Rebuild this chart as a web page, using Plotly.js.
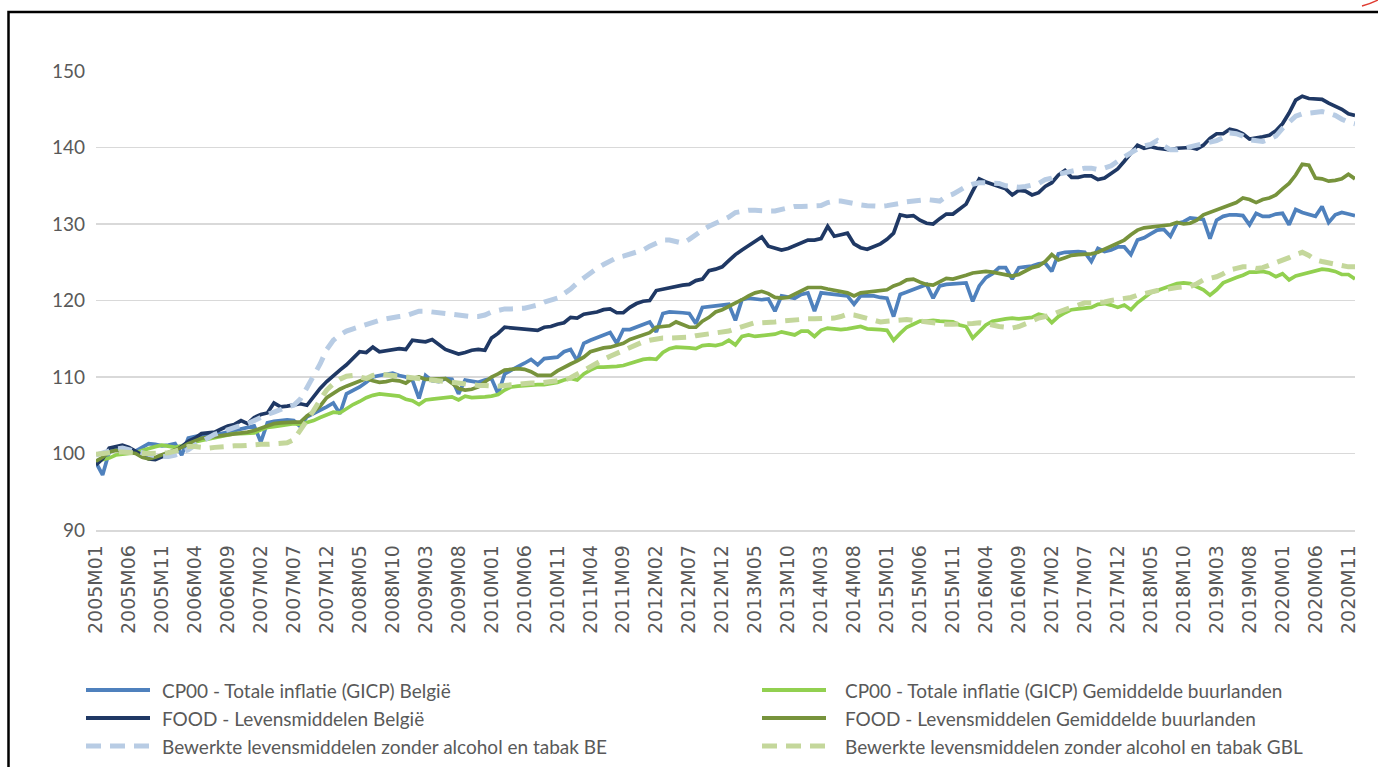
<!DOCTYPE html>
<html>
<head>
<meta charset="utf-8">
<script src="https://cdn.plot.ly/plotly-3.0.1.min.js"></script>
<style>
html,body{margin:0;padding:0;background:#fff;}
#chart{width:1378px;height:767px;}
</style>
</head>
<body>
<div id="chart"></div>
<script>
// Category labels 2005M01 .. 2020M12
const years = [2005,2006,2007,2008,2009,2010,2011,2012,2013,2014,2015,2016,2017,2018,2019,2020];
const monthCodes = ["M01","M02","M03","M04","M05","M06","M07","M08","M09","M10","M11","M12"];
const categories = [];
years.forEach(y => monthCodes.forEach(m => categories.push(y + m)));
const tickLabels = categories.filter((c, k) => k % 5 === 0);

const seriesNames = [
  "CP00 - Totale inflatie (GICP) België",
  "CP00 - Totale inflatie (GICP) Gemiddelde buurlanden",
  "FOOD - Levensmiddelen België",
  "FOOD - Levensmiddelen Gemiddelde buurlanden",
  "Bewerkte levensmiddelen zonder alcohol en tabak BE",
  "Bewerkte levensmiddelen zonder alcohol en tabak GBL"
];

const cp00BE = [
  98.8, 97.2,100.2,100.5,100.8,100.6,100.3,100.8,101.3,101.2,101.0,101.1,
 101.3, 99.8,102.0,102.2,102.4,102.5,102.7,102.6,102.8,103.0,103.1,103.3,
 103.6,101.5,104.0,104.2,104.3,104.4,104.3,103.5,104.8,105.2,105.7,106.1,
 106.6,105.2,107.8,108.2,108.7,109.3,110.0,110.2,110.3,110.5,110.2,110.0,
 109.6,107.2,110.2,109.5,109.4,109.8,109.7,107.8,109.6,109.5,109.3,109.6,
 109.8,107.8,110.4,110.9,111.3,111.8,112.3,111.6,112.4,112.5,112.6,113.3,
 113.6,112.1,114.4,114.8,115.1,115.4,115.8,114.4,116.2,116.2,116.5,116.9,
 117.2,115.9,118.3,118.5,118.5,118.4,118.3,117.0,119.1,119.2,119.2,119.3,
 119.5,117.4,120.1,120.3,120.2,120.1,120.2,118.6,120.6,120.4,120.3,120.8,
 121.0,118.6,121.0,120.9,120.8,120.7,120.6,119.5,120.6,120.6,120.6,120.4,
 120.3,117.9,120.8,121.1,121.4,121.8,122.1,120.3,121.9,122.1,122.2,122.3,
 122.3,119.9,121.9,123.0,123.5,124.3,124.3,122.8,124.3,124.4,124.5,124.8,
 124.9,123.8,126.1,126.3,126.4,126.4,126.3,125.1,126.8,126.4,126.6,127.0,
 127.0,126.0,127.9,128.2,128.7,129.2,129.3,128.4,130.1,130.3,130.8,130.7,
 130.6,128.1,130.5,131.0,131.2,131.2,131.1,129.9,131.4,131.0,131.0,131.3,
 131.4,129.9,131.9,131.5,131.2,131.0,132.3,130.2,131.2,131.5,131.3,131.1
];

const cp00GBL = [
  99.0, 99.2, 99.4, 99.8, 99.9,100.0,100.1,100.4,100.7,100.9,101.1,100.9,
 100.8,101.0,101.3,101.5,101.7,101.9,102.1,102.3,102.5,102.6,102.6,102.6,
 102.7,103.1,103.4,103.5,103.6,103.8,103.9,103.8,104.0,104.3,104.7,105.1,
 105.4,105.3,105.9,106.4,106.8,107.3,107.6,107.8,107.7,107.6,107.5,107.1,
 106.9,106.4,107.0,107.1,107.2,107.3,107.4,107.0,107.5,107.3,107.3,107.4,
 107.5,107.7,108.3,108.7,108.8,108.9,109.0,109.0,109.0,109.1,109.3,109.6,
 109.8,109.6,110.4,110.9,111.3,111.3,111.3,111.4,111.5,111.8,112.0,112.3,
 112.4,112.3,113.2,113.7,113.9,113.9,113.8,113.7,114.1,114.2,114.1,114.3,
 114.8,114.2,115.3,115.5,115.3,115.4,115.5,115.6,115.9,115.7,115.5,116.0,
 116.0,115.3,116.1,116.4,116.3,116.2,116.3,116.4,116.6,116.3,116.3,116.2,
 116.1,114.8,115.7,116.5,116.9,117.3,117.3,117.4,117.3,117.3,117.2,116.8,
 116.6,115.1,116.0,116.8,117.3,117.5,117.6,117.7,117.6,117.7,117.8,118.2,
 118.0,117.1,117.9,118.4,118.8,118.9,119.0,119.1,119.5,119.6,119.4,119.1,
 119.4,118.8,119.7,120.3,121.0,121.3,121.6,122.0,122.2,122.3,122.2,121.8,
 121.4,120.7,121.4,122.3,122.7,123.0,123.3,123.7,123.7,123.8,123.6,123.1,
 123.5,122.7,123.2,123.4,123.6,123.8,124.1,124.0,123.8,123.4,123.4,122.8
];

const foodBE = [
  98.5, 99.3,100.7,100.9,101.1,100.8,100.3, 99.7, 99.3, 99.2, 99.6,100.0,
 100.3,100.9,101.6,102.0,102.6,102.7,102.8,103.2,103.6,103.8,104.3,103.9,
 104.7,105.1,105.3,106.6,106.1,106.2,106.4,106.5,106.3,107.4,108.5,109.4,
 110.2,110.9,111.6,112.5,113.3,113.2,113.9,113.3,113.4,113.6,113.7,113.6,
 114.8,114.7,114.6,114.9,114.2,113.6,113.3,113.0,113.2,113.5,113.6,113.5,
 115.1,115.7,116.5,116.4,116.3,116.3,116.2,116.1,116.5,116.6,116.9,117.1,
 117.8,117.7,118.2,118.3,118.5,118.8,118.9,118.4,118.4,119.1,119.6,119.9,
 120.0,121.3,121.5,121.6,121.8,122.0,122.1,122.6,122.8,123.9,124.1,124.4,
 125.2,126.0,126.6,127.2,127.7,128.3,127.1,126.8,126.6,126.8,127.2,127.6,
 127.9,127.9,128.1,129.7,128.4,128.6,128.8,127.4,126.9,126.7,127.1,127.4,
 128.0,128.8,131.2,131.0,131.1,130.5,130.1,130.0,130.7,131.3,131.3,132.0,
 132.6,134.3,135.9,135.5,135.2,134.9,134.6,133.8,134.4,134.3,133.8,134.1,
 134.9,135.4,136.4,137.0,136.1,136.1,136.3,136.3,135.8,136.0,136.6,137.2,
 138.2,139.2,140.3,139.9,140.1,139.9,139.8,139.7,139.9,139.9,140.0,139.8,
 140.3,141.2,141.8,141.8,142.4,142.2,141.8,141.1,141.2,141.4,141.6,142.2,
 143.1,144.5,146.2,146.7,146.4,146.4,146.3,145.8,145.4,145.0,144.4,144.2
];

const foodGBL = [
  99.0, 99.5,100.2,100.4,100.3,100.1,100.0, 99.5, 99.3, 99.5, 99.8,100.1,
 100.4,100.8,101.3,101.6,102.0,102.1,102.2,102.3,102.4,102.5,102.6,102.8,
 103.0,103.3,103.6,103.9,104.0,104.1,104.1,104.1,104.9,105.5,106.2,107.3,
 107.9,108.4,108.8,109.1,109.5,109.8,109.5,109.3,109.4,109.6,109.5,109.2,
 109.8,110.0,109.7,109.7,109.8,109.8,109.2,108.5,108.3,108.4,108.7,109.3,
 110.0,110.4,110.9,111.0,111.1,111.0,110.7,110.2,110.2,110.2,110.8,111.3,
 111.7,112.1,112.6,113.3,113.6,113.8,113.9,114.2,114.4,114.9,115.2,115.6,
 115.8,116.5,116.6,116.7,117.2,116.8,116.5,116.5,117.3,117.8,118.5,118.8,
 119.2,119.7,120.1,120.6,121.0,121.2,120.9,120.4,120.3,120.4,120.8,121.3,
 121.7,121.7,121.7,121.5,121.3,121.2,121.0,120.6,121.0,121.1,121.2,121.3,
 121.4,121.9,122.2,122.7,122.8,122.4,122.1,122.0,122.5,122.9,122.8,123.0,
 123.3,123.6,123.7,123.8,123.7,123.5,123.3,123.2,123.4,123.8,124.3,124.5,
 125.1,126.0,125.3,125.6,125.9,126.0,126.0,126.1,126.3,126.7,127.1,127.6,
 127.9,128.6,129.2,129.5,129.6,129.6,129.7,129.9,130.2,130.0,130.1,130.5,
 131.2,131.5,131.9,132.1,132.5,132.8,133.4,133.2,132.8,133.2,133.4,133.8,
 134.6,135.3,136.4,137.8,137.7,136.0,135.9,135.6,135.7,135.9,136.5,135.9
];

const processedBE = [
  99.8,100.1,100.4,100.6,100.7,100.5,100.2,100.0, 99.9, 99.7, 99.6, 99.6,
  99.8,100.1,100.5,101.1,101.6,102.1,102.5,102.8,103.1,103.5,103.7,103.9,
 104.3,104.8,105.1,105.4,105.8,106.1,106.3,107.1,108.6,110.0,111.7,113.6,
 114.8,115.5,116.0,116.3,116.6,116.9,117.2,117.4,117.6,117.8,117.9,118.0,
 118.3,118.6,118.6,118.5,118.4,118.3,118.1,118.0,117.9,117.9,117.9,118.1,
 118.5,118.7,118.9,118.9,118.9,119.0,119.2,119.4,119.8,120.0,120.3,120.9,
 121.5,122.3,123.0,123.6,124.2,124.7,125.1,125.6,125.8,126.1,126.3,126.6,
 127.1,127.5,127.9,127.9,127.7,127.5,128.0,128.7,129.2,129.7,130.1,130.5,
 130.9,131.5,131.7,131.8,131.8,131.7,131.7,131.7,131.9,132.2,132.3,132.3,
 132.3,132.4,132.4,132.8,133.0,133.0,132.8,132.7,132.5,132.4,132.3,132.3,
 132.4,132.5,132.7,132.9,133.0,133.1,133.2,133.1,133.0,133.6,133.9,134.4,
 134.9,135.2,135.4,135.4,135.4,135.3,135.0,134.9,134.8,134.9,135.1,135.3,
 135.8,136.0,136.5,136.7,136.9,137.1,137.3,137.3,137.1,137.3,137.6,138.2,
 138.8,139.3,139.8,140.2,140.4,140.9,140.2,139.7,139.7,139.9,140.0,140.2,
 140.5,140.7,140.9,141.3,141.9,141.8,141.5,141.0,140.9,140.8,141.1,141.5,
 142.5,143.4,144.1,144.4,144.5,144.6,144.7,144.5,144.2,143.7,143.3,143.1
];

const processedGBL = [
  99.9,100.0,100.2,100.2,100.2,100.1,100.0,100.0,100.0,100.0,100.0,100.1,
 100.3,100.6,100.9,100.9,100.8,100.7,100.8,100.9,100.9,101.0,101.0,101.1,
 101.1,101.2,101.2,101.3,101.3,101.4,101.8,103.0,104.2,105.6,107.0,108.3,
 109.1,109.7,110.1,110.2,110.0,109.8,110.2,110.4,110.3,110.2,110.1,110.0,
 109.9,109.8,109.7,109.6,109.5,109.4,109.3,109.1,109.0,109.0,108.9,108.9,
 108.8,108.8,108.9,109.0,109.1,109.1,109.2,109.2,109.3,109.3,109.4,109.6,
 109.9,110.4,110.9,111.4,111.8,112.3,112.7,113.1,113.5,113.9,114.2,114.6,
 114.8,115.0,115.1,115.1,115.1,115.1,115.2,115.4,115.5,115.6,115.8,115.9,
 116.0,116.3,116.6,116.9,117.1,117.1,117.1,117.2,117.3,117.4,117.5,117.5,
 117.6,117.6,117.6,117.6,117.7,117.9,118.2,118.1,117.9,117.6,117.4,117.2,
 117.3,117.4,117.5,117.5,117.4,117.3,117.1,117.0,117.0,116.9,116.9,116.9,
 116.9,117.0,117.1,117.0,116.8,116.6,116.5,116.4,116.6,116.9,117.3,117.7,
 117.9,118.1,118.5,118.8,119.1,119.4,119.7,119.7,119.7,119.8,120.0,120.1,
 120.2,120.4,120.7,120.9,121.2,121.3,121.4,121.6,121.7,121.8,121.8,122.2,
 122.7,122.9,123.1,123.5,124.0,124.2,124.4,124.4,124.2,124.3,124.6,124.9,
 125.3,125.6,126.0,126.3,125.9,125.3,125.1,124.9,124.7,124.5,124.4,124.4
];

const yTicks = [90, 100, 110, 120, 130, 140, 150];

// ----- styling -----
const W = 1378, H = 767;
const M = {l: 96, r: 23, t: 71, b: 237};
const PW = W - M.l - M.r, PH = H - M.t - M.b;
const px2x = p => (p - M.l) / PW;
const px2y = p => (H - M.b - p) / PH;

const seriesData = [cp00BE, cp00GBL, foodBE, foodGBL, processedBE, processedGBL];
const colors = ["#4F81BD", "#92D050", "#1F3864", "#77933C", "#B8CCE4", "#C4D79B"];
const dashed = [false, false, false, false, true, true];
const DASH = "14px,9px";

const traces = seriesData.map((vals, k) => ({
  type: "scatter", mode: "lines",
  x: categories, y: vals, name: seriesNames[k],
  line: {color: colors[k], width: dashed[k] ? 5 : 3.7, dash: dashed[k] ? DASH : "solid"},
  hoverinfo: "skip", showlegend: false
}));

// manual legend: two columns, three rows
const shapes = [];
const annotations = [];
const rowY = [690, 718, 746];
const colSym = [[86, 150], [762, 826]];
const colText = [160, 843];
seriesData.forEach((v, k) => {
  const col = k % 2, row = Math.floor(k / 2);
  shapes.push({
    type: "line", xref: "paper", yref: "paper",
    x0: px2x(colSym[col][0]), x1: px2x(colSym[col][1]),
    y0: px2y(rowY[row]), y1: px2y(rowY[row]),
    line: {color: colors[k], width: dashed[k] ? 5 : 4, dash: dashed[k] ? "15px,9px" : "solid"}
  });
  annotations.push({
    xref: "paper", yref: "paper", x: px2x(colText[col]), y: px2y(rowY[row]),
    xanchor: "left", yanchor: "middle", showarrow: false,
    text: seriesNames[k],
    font: {family: "Lato, 'Open Sans', sans-serif", size: 19, color: "#595959"}
  });
});
// outer frame
shapes.push({
  type: "rect", xref: "paper", yref: "paper",
  x0: px2x(8.5), x1: px2x(1390), y0: px2y(800), y1: px2y(12),
  line: {color: "#000000", width: 2.5}, fillcolor: "rgba(0,0,0,0)", layer: "below"
});
// small red mark at top-right corner
shapes.push({
  type: "path", xref: "paper", yref: "paper",
  path: "M" + px2x(1362) + "," + px2y(6) + " Q" + px2x(1370) + "," + px2y(4) + " " + px2x(1378) + "," + px2y(0),
  line: {color: "#E03C31", width: 1.5}
});

const layout = {
  width: W, height: H,
  margin: M,
  paper_bgcolor: "#ffffff", plot_bgcolor: "#ffffff",
  showlegend: false,
  xaxis: {
    type: "category",
    range: [0, categories.length - 1],
    tickmode: "array", tickvals: tickLabels, ticktext: tickLabels,
    tickangle: -90,
    tickfont: {family: "'DejaVu Sans', sans-serif", size: 19, color: "#595959"},
    showgrid: false, zeroline: false,
    showline: true, linecolor: "#D9D9D9", linewidth: 1.5,
    ticks: "", ticklabelstandoff: 6
  },
  yaxis: {
    range: [90, 150],
    tickmode: "array", tickvals: yTicks,
    tickfont: {family: "Lato, 'Open Sans', sans-serif", size: 19, color: "#595959"},
    showgrid: true, gridcolor: "#D9D9D9", gridwidth: 1.5,
    zeroline: false, showline: false, ticks: "", ticklabelstandoff: 10
  },
  shapes: shapes,
  annotations: annotations
};

Plotly.newPlot("chart", traces, layout, {displayModeBar: false, staticPlot: true});
</script>
</body>
</html>
